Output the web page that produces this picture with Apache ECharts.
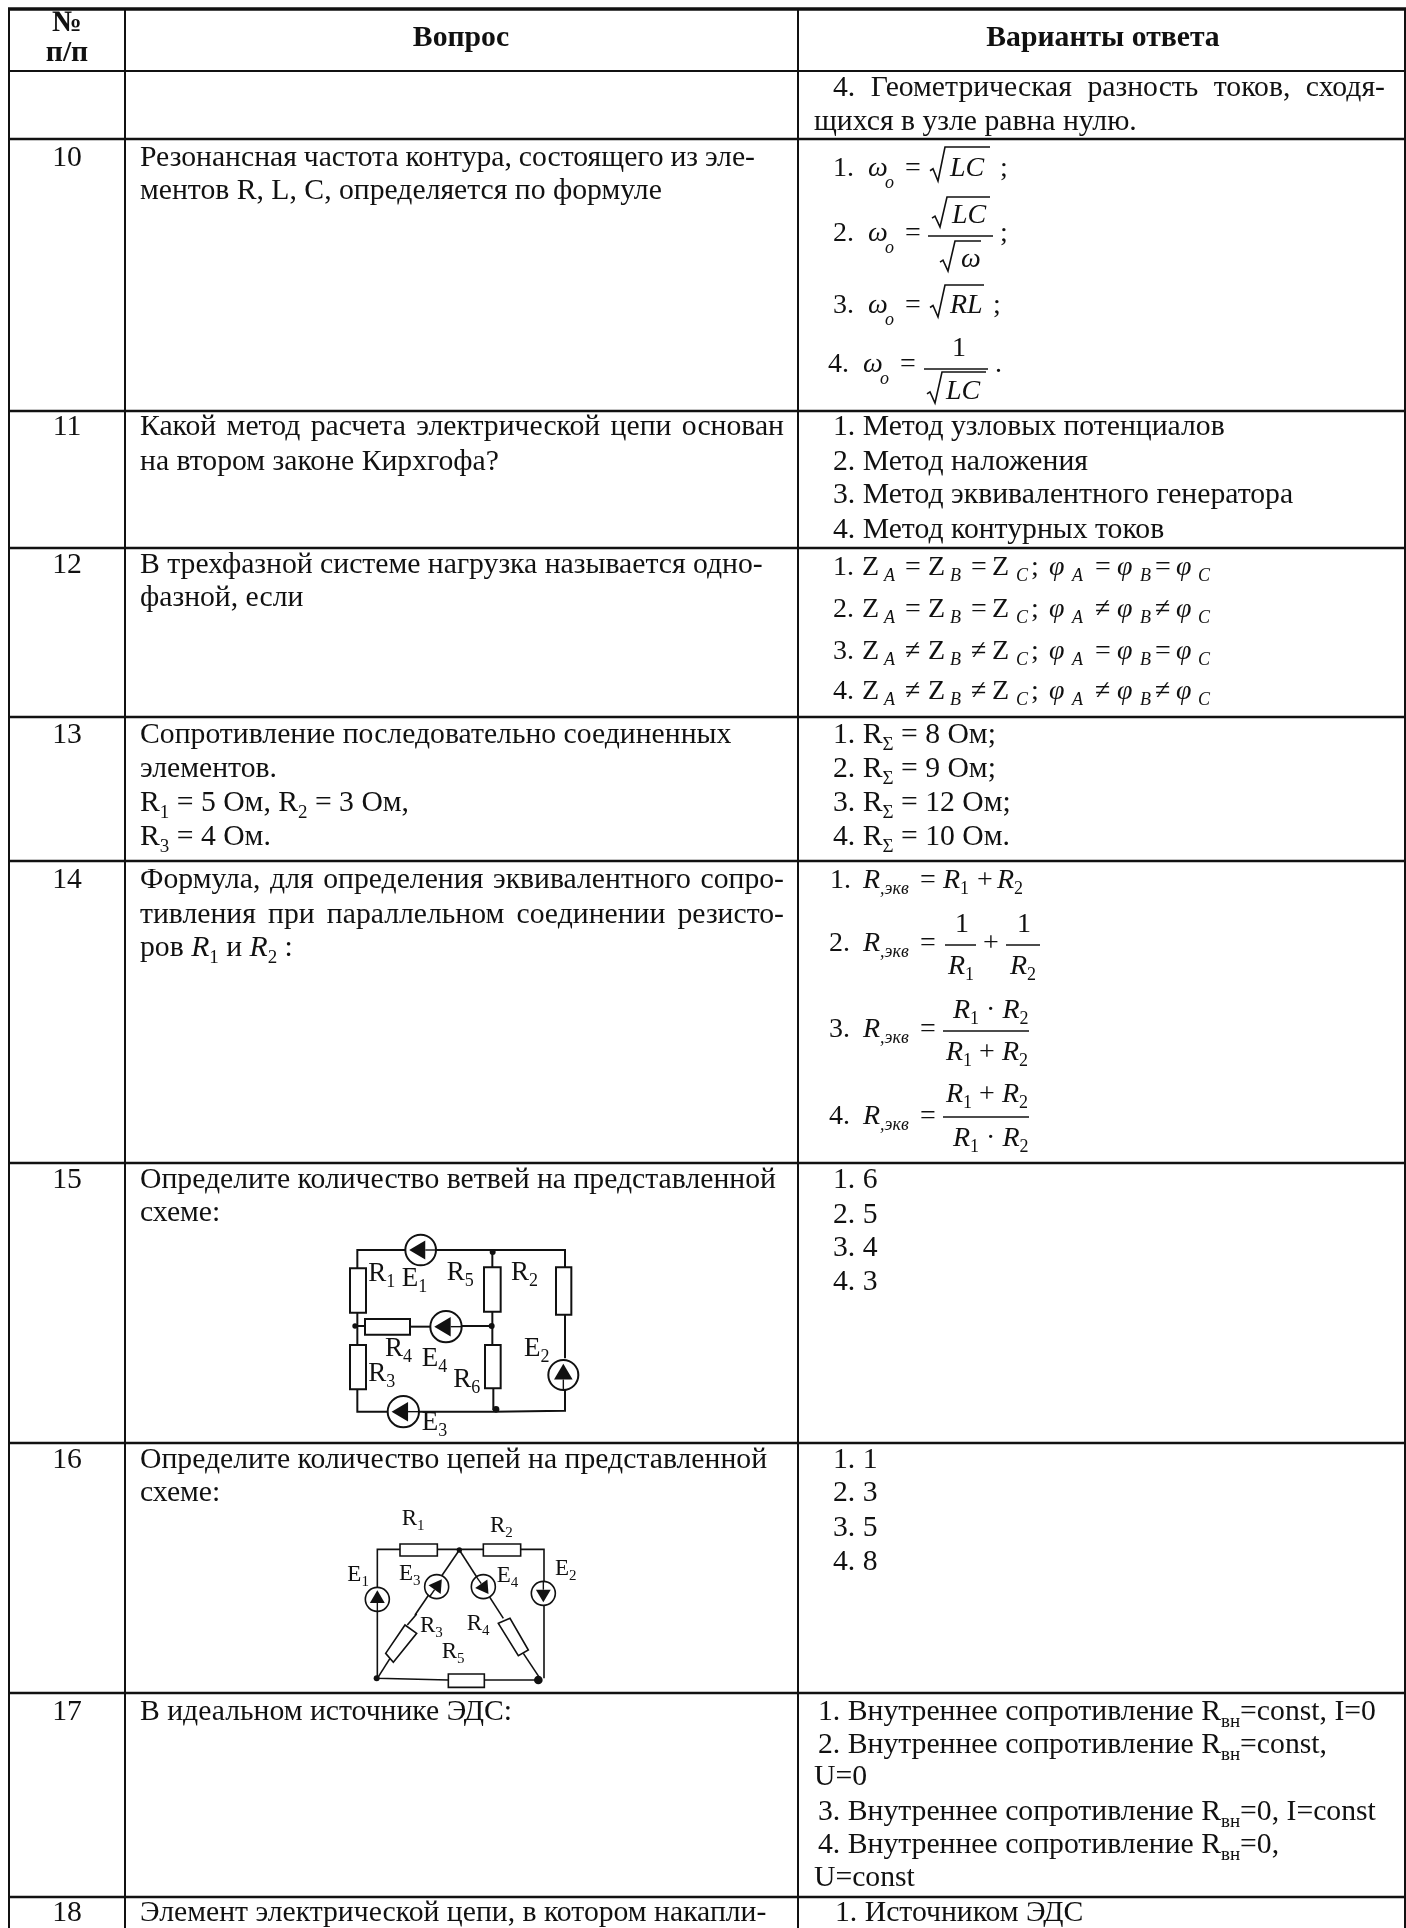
<!DOCTYPE html>
<html>
<head>
<meta charset="utf-8">
<style>
html, body { margin: 0; padding: 0; background: #fff; }
#main { width: 1406px; height: 1928px; }
</style>
<script src="https://cdn.jsdelivr.net/npm/echarts@6/dist/echarts.min.js"></script>
</head>
<body>
<div id="main"></div>
<script>
// markup: *x* italic, _{x} subscript, ~{x} italic subscript
const headerLabels = ['№', 'п/п', 'Вопрос', 'Варианты ответа'];
const rowNumbers = ['', '10', '11', '12', '13', '14', '15', '16', '17', '18'];
const questionLines = [
  [],
  ['Резонансная частота контура, состоящего из эле-', 'ментов R, L, C, определяется по формуле'],
  ['Какой метод расчета электрической цепи основан', 'на втором законе Кирхгофа?'],
  ['В трехфазной системе нагрузка называется одно-', 'фазной, если'],
  ['Сопротивление последовательно соединенных', 'элементов.', 'R_{1} = 5 Ом, R_{2} = 3 Ом,', 'R_{3} = 4 Ом.'],
  ['Формула, для определения эквивалентного сопро-', 'тивления при параллельном соединении резисто-', 'ров *R*_{1} и *R*_{2} :'],
  ['Определите количество ветвей на представленной', 'схеме:'],
  ['Определите количество цепей на представленной', 'схеме:'],
  ['В идеальном источнике ЭДС:'],
  ['Элемент электрической цепи, в котором накапли-']
];
const answerLines = [
  ['4. Геометрическая разность токов, сходя-', 'щихся в узле равна нулю.'],
  [],
  ['1. Метод узловых потенциалов', '2. Метод наложения', '3. Метод эквивалентного генератора', '4. Метод контурных токов'],
  [],
  ['1. R_{Σ} = 8 Ом;', '2. R_{Σ} = 9 Ом;', '3. R_{Σ} = 12 Ом;', '4. R_{Σ} = 10 Ом.'],
  [],
  ['1. 6', '2. 5', '3. 4', '4. 3'],
  ['1. 1', '2. 3', '3. 5', '4. 8'],
  ['1. Внутреннее сопротивление R_{вн}=const, I=0', '2. Внутреннее сопротивление R_{вн}=const,', 'U=0', '3. Внутреннее сопротивление R_{вн}=0, I=const', '4. Внутреннее сопротивление R_{вн}=0,', 'U=const'],
  ['1. Источником ЭДС']
];
const phaseOps = [
  ['=', '=', '=', '='],
  ['=', '=', '≠', '≠'],
  ['≠', '≠', '=', '='],
  ['≠', '≠', '≠', '≠']
];
const phaseSymbols = ['Z', '~{A}', 'Z', '~{B}', 'Z', '~{C}', ';', '*φ*', '~{A}', '*φ*', '~{B}', '*φ*', '~{C}'];
const resonanceLabels = ['1.', '*ω*', '~{o}', '=', '*LC*', ';', '2.', '*ω*', '~{o}', '=', '*LC*', '*ω*', ';', '3.', '*ω*', '~{o}', '=', '*RL*', ';', '4.', '*ω*', '~{o}', '=', '1', '*LC*', '.'];
const resistanceLabels = [
  '1.', '*R*~{,экв}', '=', '*R*_{1}', '+', '*R*_{2}',
  '2.', '*R*~{,экв}', '=', '1', '*R*_{1}', '+', '1', '*R*_{2}',
  '3.', '*R*~{,экв}', '=', '*R*_{1} · *R*_{2}', '*R*_{1} + *R*_{2}',
  '4.', '*R*~{,экв}', '=', '*R*_{1} + *R*_{2}', '*R*_{1} · *R*_{2}'
];
const circuit1Labels = ['R_{1}', 'E_{1}', 'R_{5}', 'R_{2}', 'R_{4}', 'E_{4}', 'R_{3}', 'R_{6}', 'E_{2}', 'E_{3}'];
const circuit2Labels = ['R_{1}', 'R_{2}', 'E_{1}', 'E_{3}', 'E_{4}', 'E_{2}', 'R_{3}', 'R_{4}', 'R_{5}'];

// layout
const rowEdges = [9, 71, 139, 411, 548, 717, 861, 1163, 1443, 1693, 1897];
const colEdges = [9, 125, 798, 1405];
const FONT_SIZE = 29.7;
const FORMULA_SIZE = 28;
const FAMILY = "'Liberation Serif'";
const INK = '#111';
const questionX = 140;
const questionBase = [[], [168, 201], [437, 472], [575, 608], [745, 779, 813, 847], [890, 925, 958], [1190, 1223], [1470, 1503], [1722], [1923]];
const questionEnd = [[], [755, 0], [784, 0], [0, 0], [0, 0, 0, 0], [784, 784, 0], [0, 0], [0, 0], [0], [0]];
const answerBase = [[98, 132], [], [437, 472, 505, 540], [], [745, 779, 813, 847], [], [1190, 1225, 1258, 1292], [1470, 1503, 1538, 1572], [1722, 1755, 1787, 1822, 1855, 1888], [1923]];
const answerStart = [[833, 814], [], [833, 833, 833, 833], [], [833, 833, 833, 833], [], [833, 833, 833, 833], [833, 833, 833, 833], [818, 818, 814, 818, 818, 814], [835]];
const answerEnd = [[1385, 0], [], [0, 0, 0, 0], [], [0, 0, 0, 0], [], [0, 0, 0, 0], [0, 0, 0, 0], [0, 0, 0, 0, 0, 0], [0]];

const phaseBase = [577, 619, 661, 701];
const phaseX = [862, 884, 928, 950, 992, 1016, 1031, 1049, 1072, 1117, 1140, 1176, 1198];
const phaseOpX = [905, 971, 1095, 1155];
const resonancePos = [
  [833, 178], [868, 178], [885, 184], [905, 178], [950, 178], [1000, 178],
  [833, 243], [868, 243], [885, 249], [905, 243], [952, 225], [961, 269], [1000, 243],
  [833, 315], [868, 315], [885, 321], [905, 315], [950, 315], [993, 315],
  [828, 374], [863, 374], [880, 380], [900, 374], [952, 358], [946, 401], [995, 374]
];
const resonanceBars = [[928, 993, 236], [924, 988, 369]];
const sqrtMarks = [[930, 181, 147, 990], [932, 227, 197, 990], [940, 271, 241, 981], [930, 317, 285, 984], [927, 403, 372, 986]];
const resistancePos = [
  [830, 890], [863, 890], [920, 890], [943, 890], [977, 890], [997, 890],
  [829, 953], [863, 953], [920, 953], [955, 934], [948, 976], [983, 953], [1017, 934], [1010, 976],
  [829, 1039], [863, 1039], [920, 1039], [953, 1020], [946, 1062],
  [829, 1126], [863, 1126], [920, 1126], [946, 1104], [953, 1148]
];
const resistanceBars = [[945, 976, 945], [1006, 1040, 945], [943, 1029, 1031], [943, 1029, 1117]];

// schematics: coordinates in the 3x crop, origin + scale below
const circuit1Origin = [320, 1190];
const circuit1Wires = [
  [[112, 235], [112, 180], [735, 180], [735, 232]], [[112, 368], [112, 465]], [[112, 598], [112, 665], [520, 665], [735, 662], [735, 600]],
  [[735, 374], [735, 505]], [[105, 408], [135, 408]], [[270, 410], [330, 410]], [[425, 408], [517, 408]],
  [[517, 180], [517, 232]], [[517, 365], [517, 465]], [[520, 595], [520, 660]]
];
const circuit1Rects = [[90, 235, 48, 133], [90, 465, 48, 133], [708, 232, 46, 142], [135, 387, 135, 47], [492, 232, 50, 133], [495, 465, 47, 130]];
const circuit1Sources = [[302, 180, 46, 180], [378, 410, 47, 180], [250, 665, 47, 180], [730, 555, 45, -90]];
const circuit1Dots = [[518, 186, 9], [515, 408, 9], [105, 408, 8], [528, 658, 10]];
const circuit1LabelPos = [[145, 278], [245, 295], [380, 275], [573, 275], [195, 505], [305, 535], [145, 580], [400, 597], [612, 505], [305, 725]];
const circuit2Origin = [320, 1490];
const circuit2Wires = [
  [[240, 178], [172, 178], [172, 565], [385, 570]], [[352, 178], [490, 178]], [[602, 178], [672, 178], [672, 565]], [[493, 570], [660, 570]],
  [[418, 180], [285, 375]], [[262, 405], [290, 372]], [[210, 505], [172, 565]], [[418, 180], [550, 385]], [[610, 490], [660, 565]]
];
const circuit2Rects = [[240, 162, 112, 36], [490, 162, 112, 36], [385, 552, 108, 40]];
const circuit2Polys = [[[255, 405], [290, 430], [220, 517], [197, 490]], [[535, 400], [570, 385], [625, 480], [595, 497]]];
const circuit2Sources = [[172, 328, 36, -90], [670, 310, 36, 90], [350, 290, 36, -55], [490, 290, 36, 55]];
const circuit2Dots = [[418, 180, 8], [170, 565, 9], [655, 570, 13]];
const circuit2LabelPos = [[245, 110], [510, 130], [82, 278], [237, 275], [530, 280], [705, 260], [300, 430], [440, 425], [365, 508]];

const ctx = document.createElement('canvas').getContext('2d');
function fontOf(size, italic, bold) {
  return (italic ? 'italic ' : '') + (bold ? 'bold ' : '') + size + 'px ' + FAMILY;
}
function parseRuns(str, size, bold) {
  return str.split(/(\*[^*]+\*|_\{[^}]*\}|~\{[^}]*\})/).filter(Boolean).map(function (part) {
    let m = part.match(/^\*(.*)\*$/);
    if (m) return { text: m[1], font: fontOf(size, true, bold), dy: 0 };
    m = part.match(/^_\{(.*)\}$/);
    if (m) return { text: m[1], font: fontOf(Math.round(size * 0.65), false, bold), dy: size * 0.2 };
    m = part.match(/^~\{(.*)\}$/);
    if (m) return { text: m[1], font: fontOf(Math.round(size * 0.65), true, bold), dy: size * 0.2 };
    return { text: part, font: fontOf(size, false, bold), dy: 0 };
  });
}
function runWidth(run) {
  ctx.font = run.font;
  return ctx.measureText(run.text).width;
}
// one text element per run; when xEnd is given spaces are stretched to reach it
function textItems(str, x, baseline, size, bold, xEnd) {
  let runs = parseRuns(str, size, bold);
  let extra = 0;
  if (xEnd) {
    let total = runs.reduce(function (s, r) { return s + runWidth(r); }, 0);
    let gaps = (str.match(/ /g) || []).length;
    extra = gaps ? (xEnd - x - total) / gaps : 0;
    let split = [];
    runs.forEach(function (r) {
      r.text.split(/( )/).filter(Boolean).forEach(function (t) { split.push({ text: t, font: r.font, dy: r.dy }); });
    });
    runs = split;
  }
  let items = [];
  let cur = x;
  runs.forEach(function (r) {
    let w = runWidth(r);
    if (r.text === ' ') { cur += w + extra; return; }
    let px = parseFloat(r.font.match(/([\d.]+)px/)[1]);
    items.push({
      type: 'text',
      silent: true,
      style: { x: cur, y: baseline + r.dy - px * 0.3375, text: r.text, font: r.font, fill: INK, align: 'left', verticalAlign: 'middle' }
    });
    cur += w;
  });
  return items;
}
function centered(str, cx, baseline, size, bold) {
  ctx.font = fontOf(size, false, bold);
  return textItems(str, cx - ctx.measureText(str).width / 2, baseline, size, bold);
}
function line(x1, y1, x2, y2, width) {
  return { type: 'line', silent: true, shape: { x1: x1, y1: y1, x2: x2, y2: y2 }, style: { stroke: INK, lineWidth: width } };
}

function formulaItems(labels, pos, size) {
  let out = [];
  labels.forEach(function (label, i) {
    out = out.concat(textItems(label, pos[i][0], pos[i][1], size));
  });
  return out;
}
function sqrtItem(m) {
  let x = m[0], bottom = m[1], top = m[2], end = m[3];
  let mid = bottom - (bottom - top) * 0.36;
  return {
    type: 'polyline', silent: true,
    shape: { points: [[x, mid + 2], [x + 3, mid], [x + 8, bottom], [x + 15, top], [end, top]] },
    style: { stroke: INK, lineWidth: 1.6, fill: null }
  };
}
function circuitItems(origin, wires, rects, polys, sources, dots, labels, labelPos, size, weight) {
  const px = function (p) { return [origin[0] + p[0] / 3, origin[1] + p[1] / 3]; };
  let out = [];
  wires.forEach(function (w) {
    out.push({ type: 'polyline', silent: true, shape: { points: w.map(px) }, style: { stroke: INK, lineWidth: weight, fill: null } });
  });
  rects.forEach(function (r) {
    let p = px(r);
    out.push({ type: 'rect', silent: true, shape: { x: p[0], y: p[1], width: r[2] / 3, height: r[3] / 3 }, style: { stroke: INK, lineWidth: weight, fill: '#fff' } });
  });
  polys.forEach(function (poly) {
    out.push({ type: 'polygon', silent: true, shape: { points: poly.map(px) }, style: { stroke: INK, lineWidth: weight, fill: '#fff' } });
  });
  sources.forEach(function (s) {
    let c = px(s), r = s[2] / 3, a = s[3] * Math.PI / 180;
    out.push({ type: 'circle', silent: true, shape: { cx: c[0], cy: c[1], r: r }, style: { stroke: INK, lineWidth: weight, fill: '#fff' } });
    let tip = [c[0] + Math.cos(a) * r * 0.75, c[1] + Math.sin(a) * r * 0.75];
    let back = [c[0] - Math.cos(a) * r * 0.3, c[1] - Math.sin(a) * r * 0.3];
    let nx = -Math.sin(a) * r * 0.62, ny = Math.cos(a) * r * 0.62;
    out.push({ type: 'line', silent: true, shape: { x1: c[0] - Math.cos(a) * r, y1: c[1] - Math.sin(a) * r, x2: back[0], y2: back[1] }, style: { stroke: INK, lineWidth: 1.4 } });
    out.push({ type: 'polygon', silent: true, shape: { points: [tip, [back[0] + nx, back[1] + ny], [back[0] - nx, back[1] - ny]] }, style: { fill: INK } });
  });
  dots.forEach(function (d) {
    let c = px(d);
    out.push({ type: 'circle', silent: true, shape: { cx: c[0], cy: c[1], r: d[2] / 3 }, style: { fill: INK } });
  });
  labels.forEach(function (l, i) {
    let p = px(labelPos[i]);
    out = out.concat(textItems(l, p[0], p[1], size));
  });
  return out;
}

// formulas and schematics are not table marks, they go on the graphic layer
let extras = [];
extras = extras.concat(formulaItems(resonanceLabels, resonancePos, FORMULA_SIZE));
extras = extras.concat(formulaItems(resistanceLabels, resistancePos, FORMULA_SIZE));
resonanceBars.concat(resistanceBars).forEach(function (b) { extras.push(line(b[0], b[2], b[1], b[2], 1.5)); });
sqrtMarks.forEach(function (m) { extras.push(sqrtItem(m)); });
phaseBase.forEach(function (y, i) {
  extras = extras.concat(textItems((i + 1) + '.', 833, y, FORMULA_SIZE));
  phaseSymbols.forEach(function (s, k) { extras = extras.concat(textItems(s, phaseX[k], y, FORMULA_SIZE)); });
  phaseOps[i].forEach(function (op, k) { extras = extras.concat(textItems(op, phaseOpX[k], y, FORMULA_SIZE)); });
});
extras = extras.concat(circuitItems(circuit1Origin, circuit1Wires, circuit1Rects, [], circuit1Sources, circuit1Dots, circuit1Labels, circuit1LabelPos, 27, 2));
extras = extras.concat(circuitItems(circuit2Origin, circuit2Wires, circuit2Rects, circuit2Polys, circuit2Sources, circuit2Dots, circuit2Labels, circuit2LabelPos, 23, 1.6));

const chart = echarts.init(document.getElementById('main'));
chart.setOption({
  animation: false,
  backgroundColor: '#fff',
  grid: { left: 0, right: 0, top: 0, bottom: 0 },
  xAxis: { type: 'value', min: 0, max: 1406, show: false },
  yAxis: { type: 'value', min: 0, max: 1928, inverse: true, show: false },
  graphic: { elements: extras },
  series: [
    {
      // rows: horizontal rule plus the texts of that row
      type: 'custom',
      clip: false,
      silent: true,
      coordinateSystem: 'cartesian2d',
      data: rowEdges.map(function (y) { return [0, y]; }),
      renderItem: function (params, api) {
        let i = params.dataIndex;
        let left = api.coord([colEdges[0], api.value(1)]);
        let right = api.coord([colEdges[3], api.value(1)]);
        let children = [line(left[0] - 1, left[1], right[0] + 1, right[1], i === 0 ? 3.5 : (i === 1 ? 2 : 2.6))];
        if (i === 0) {
          children = children.concat(centered(headerLabels[0], 67, 33, FONT_SIZE, true));
          children = children.concat(centered(headerLabels[1], 67, 63, FONT_SIZE, true));
          children = children.concat(centered(headerLabels[2], 461, 48, FONT_SIZE, true));
          children = children.concat(centered(headerLabels[3], 1103, 48, FONT_SIZE, true));
        }
        let r = i - 1;
        if (r >= 0 && r < rowNumbers.length) {
          if (rowNumbers[r]) {
            let first = questionBase[r][0];
            children = children.concat(centered(rowNumbers[r], 67, first, FONT_SIZE));
          }
          questionLines[r].forEach(function (text, k) {
            children = children.concat(textItems(text, questionX, questionBase[r][k], FONT_SIZE, false, questionEnd[r][k]));
          });
          answerLines[r].forEach(function (text, k) {
            children = children.concat(textItems(text, answerStart[r][k], answerBase[r][k], FONT_SIZE, false, answerEnd[r][k]));
          });
        }
        return { type: 'group', children: children };
      }
    },
    {
      type: 'custom',
      clip: false,
      silent: true,
      coordinateSystem: 'cartesian2d',
      data: colEdges.map(function (x) { return [x, 0]; }),
      renderItem: function (params, api) {
        let top = api.coord([api.value(0), rowEdges[0]]);
        let bottom = api.coord([api.value(0), 1928]);
        return line(top[0], top[1], bottom[0], bottom[1], 2);
      }
    }
  ]
});
</script>
</body>
</html>
